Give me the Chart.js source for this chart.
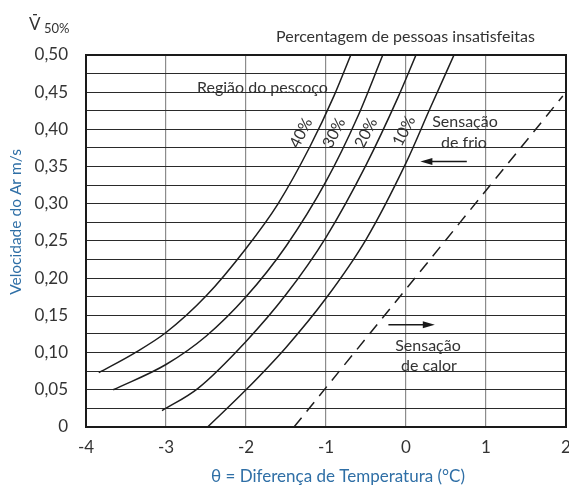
<!DOCTYPE html>
<html>
<head>
<meta charset="utf-8">
<script src="https://cdn.jsdelivr.net/npm/chart.js@4"></script>
<style>
  html, body { margin: 0; padding: 0; background: #fff; }
  #wrap { width: 569px; height: 488px; }
</style>
</head>
<body>
<div id="wrap"><canvas id="chart"></canvas></div>
<script>
// Temperature difference (x) and air velocity (y)
const curve40x = [-3.84, -3.40, -3.00, -2.50, -2.00, -1.60, -1.20, -0.90, -0.69];
const curve40y = [0.073, 0.099, 0.127, 0.176, 0.240, 0.300, 0.377, 0.445, 0.500];

const curve30x = [-3.66, -3.00, -2.50, -2.00, -1.50, -1.00, -0.60, -0.29];
const curve30y = [0.050, 0.084, 0.122, 0.175, 0.243, 0.330, 0.418, 0.500];

const curve20x = [-3.05, -2.60, -2.00, -1.50, -1.00, -0.50, -0.10, 0.125];
const curve20y = [0.022, 0.052, 0.115, 0.178, 0.255, 0.352, 0.443, 0.500];

const curve10x = [-2.48, -2.00, -1.50, -1.00, -0.50, 0.00, 0.30, 0.60];
const curve10y = [0.000, 0.050, 0.107, 0.173, 0.252, 0.355, 0.428, 0.500];

// dashed limit line
const limitX = [-1.40, 1.96];
const limitY = [0.000, 0.445];

// arrows (from -> to), in data units
const coldArrowX = [0.76, 0.18];
const coldArrowY = [0.357, 0.357];
const hotArrowX = [-0.22, 0.36];
const hotArrowY = [0.1375, 0.1375];

const xTicks = [-4, -3, -2, -1, 0, 1, 2];
const yTickLabels = ['0', '0,05', '0,10', '0,15', '0,20', '0,25', '0,30', '0,35', '0,40', '0,45', '0,50'];

const FONT = 'Lato, "Noto Sans", sans-serif';
const BLUE = '#2f6fa6';

function toPoints(xs, ys) {
    return xs.map((x, i) => ({ x: x, y: ys[i] }));
}

function curveSet(xs, ys) {
    return {
        data: toPoints(xs, ys),
        showLine: true,
        borderColor: '#1e1e1e',
        borderWidth: 1.5,
        pointRadius: 0,
        cubicInterpolationMode: 'monotone',
        fill: false
    };
}

// frame, arrows and free text
const extras = {
    id: 'extras',
    afterDraw(chart) {
        const ctx = chart.ctx;
        const a = chart.chartArea;
        const xs = chart.scales.x;
        const ys = chart.scales.y;
        ctx.save();

        // frame
        ctx.strokeStyle = '#1a1a1a';
        ctx.lineWidth = 2;
        ctx.strokeRect(a.left, a.top, a.right - a.left, a.bottom - a.top);

        // arrows
        function arrow(xv, yv) {
            const x1 = xs.getPixelForValue(xv[0]), y1 = ys.getPixelForValue(yv[0]);
            const x2 = xs.getPixelForValue(xv[1]), y2 = ys.getPixelForValue(yv[1]);
            const dir = Math.sign(x2 - x1);
            ctx.strokeStyle = '#1a1a1a';
            ctx.fillStyle = '#1a1a1a';
            ctx.lineWidth = 1.5;
            ctx.beginPath();
            ctx.moveTo(x1, y1);
            ctx.lineTo(x2 - dir * 8, y2);
            ctx.stroke();
            ctx.beginPath();
            ctx.moveTo(x2, y2);
            ctx.lineTo(x2 - dir * 12, y2 - 3.5);
            ctx.lineTo(x2 - dir * 12, y2 + 3.5);
            ctx.closePath();
            ctx.fill();
        }
        arrow(coldArrowX, coldArrowY);
        arrow(hotArrowX, hotArrowY);

        // texts inside / around the plot
        ctx.fillStyle = '#333';
        ctx.textBaseline = 'middle';
        ctx.font = '16px ' + FONT;
        ctx.textAlign = 'left';
        ctx.fillText('Percentagem de pessoas insatisfeitas', 276, 37);
        ctx.fillText('Região do pescoço', 197, 88);
        ctx.textAlign = 'center';
        ctx.fillText('Sensação', 465, 122);
        ctx.fillText('de frio', 464, 143);
        ctx.fillText('Sensação', 428, 346);
        ctx.fillText('de calor', 429, 366);

        // rotated percentage labels
        const pct = [['40%', 301, 133], ['30%', 334, 133], ['20%', 366, 133], ['10%', 404, 131]];
        pct.forEach(p => {
            ctx.save();
            ctx.translate(p[1], p[2]);
            ctx.rotate(-63 * Math.PI / 180);
            ctx.textAlign = 'center';
            ctx.fillText(p[0], 0, 0);
            ctx.restore();
        });

        // V̄ 50%
        ctx.textAlign = 'left';
        ctx.textBaseline = 'alphabetic';
        ctx.font = '17px ' + FONT;
        ctx.fillText('V', 29, 30);
        ctx.fillRect(33, 14, 4, 1.3);
        ctx.font = '13px ' + FONT;
        ctx.fillText('50%', 44, 33);

        // axis titles
        ctx.textBaseline = 'middle';
        ctx.fillStyle = BLUE;
        ctx.font = '17px ' + FONT;
        ctx.textAlign = 'center';
        ctx.fillText('\u03b8 = Diferença de Temperatura (°C)', 338, 477);
        ctx.font = '15.5px ' + FONT;
        ctx.save();
        ctx.translate(16, 222);
        ctx.rotate(-Math.PI / 2);
        ctx.fillText('Velocidade do Ar m/s', 0, 0);
        ctx.restore();

        ctx.restore();
    }
};

const ctx = document.getElementById('chart').getContext('2d');
new Chart(ctx, {
    type: 'scatter',
    data: {
        datasets: [
            curveSet(curve40x, curve40y),
            curveSet(curve30x, curve30y),
            curveSet(curve20x, curve20y),
            curveSet(curve10x, curve10y),
            {
                data: toPoints(limitX, limitY),
                showLine: true,
                borderColor: '#1e1e1e',
                borderWidth: 1.5,
                borderDash: [12, 8],
                pointRadius: 0,
                fill: false
            }
        ]
    },
    options: {
        responsive: true,
        maintainAspectRatio: false,
        animation: false,
        layout: { padding: { left: 0, right: 3, top: 55, bottom: 0 } },
        plugins: {
            legend: { display: false },
            tooltip: { enabled: false }
        },
        scales: {
            x: {
                type: 'linear',
                min: -4,
                max: 2,
                afterBuildTicks: s => { s.ticks = xTicks.map(v => ({ value: v })); },
                afterFit: s => { s.height = 61; s.paddingLeft = 0; s.paddingRight = 0; },
                ticks: {
                    color: '#333',
                    font: { family: FONT, size: 17 },
                    padding: 10,
                    maxRotation: 0,
                    callback: v => String(v)
                },
                grid: { color: '#8c8c8c', lineWidth: 1.2, drawTicks: false },
                border: { display: false }
            },
            y: {
                type: 'linear',
                min: 0,
                max: 0.5,
                ticks: {
                    stepSize: 0.025,
                    color: '#333',
                    font: { family: FONT, size: 17 },
                    padding: 18,
                    autoSkip: false,
                    callback: (v) => {
                        const k = Math.round(v / 0.025);
                        return k % 2 === 0 ? yTickLabels[k / 2] : '';
                    }
                },
                afterFit: s => { s.width = 86; s.paddingTop = 0; s.paddingBottom = 0; },
                grid: { color: '#2a2a2a', lineWidth: 1.1, drawTicks: false },
                border: { display: false }
            }
        }
    },
    plugins: [extras]
});
</script>
</body>
</html>
